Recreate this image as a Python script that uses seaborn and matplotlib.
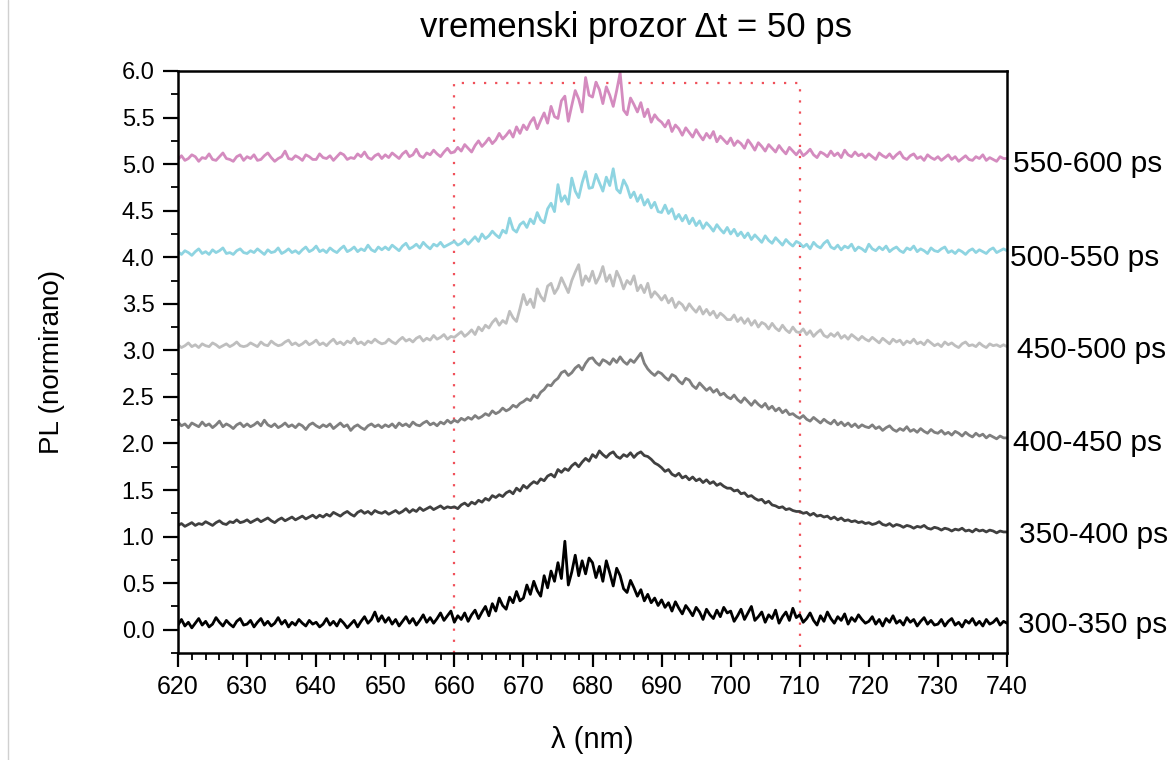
import matplotlib
matplotlib.use("Agg")
import matplotlib.pyplot as plt
import numpy as np
import pandas as pd
import seaborn as sns
from matplotlib.ticker import MultipleLocator, FormatStrFormatter
from matplotlib.lines import Line2D

# ---------------- data (0.5 nm steps) ----------------
wavelength = np.arange(620.0, 740.25, 0.5)

s550_600 = [
    5.05, 5.09, 5.04, 5.06, 5.10, 5.08, 5.03, 5.07, 5.06, 5.11, 5.05, 5.04, 5.08, 5.12, 5.06, 5.05, 5.03, 5.08, 5.10, 5.04,
    5.08, 5.06, 5.10, 5.04, 5.05, 5.09, 5.12, 5.07, 5.03, 5.06, 5.08, 5.14, 5.06, 5.05, 5.09, 5.07, 5.04, 5.10, 5.08, 5.05,
    5.05, 5.11, 5.07, 5.06, 5.09, 5.04, 5.08, 5.12, 5.10, 5.05, 5.07, 5.06, 5.11, 5.08, 5.13, 5.07, 5.05, 5.09, 5.11, 5.06,
    5.10, 5.07, 5.12, 5.09, 5.06, 5.11, 5.14, 5.08, 5.10, 5.16, 5.09, 5.07, 5.12, 5.10, 5.15, 5.11, 5.08, 5.13, 5.17, 5.12,
    5.13, 5.18, 5.14, 5.21, 5.17, 5.13, 5.20, 5.25, 5.19, 5.23, 5.28, 5.22, 5.26, 5.33, 5.27, 5.31, 5.36, 5.29, 5.40, 5.33,
    5.42, 5.37, 5.45, 5.50, 5.38, 5.47, 5.55, 5.44, 5.62, 5.51, 5.49, 5.68, 5.73, 5.46, 5.63, 5.79, 5.70, 5.56, 5.93, 5.74,
    5.72, 5.88, 5.80, 5.65, 5.83, 5.74, 5.62, 5.79, 5.98, 5.58, 5.53, 5.71, 5.64, 5.56, 5.66, 5.51, 5.59, 5.45, 5.53, 5.48,
    5.45, 5.40, 5.47, 5.35, 5.42, 5.38, 5.31, 5.39, 5.34, 5.29, 5.37, 5.31, 5.26, 5.33, 5.28, 5.35, 5.24, 5.30, 5.26, 5.22,
    5.28, 5.20, 5.25, 5.22, 5.17, 5.26, 5.21, 5.15, 5.23, 5.19, 5.14, 5.21, 5.17, 5.13, 5.20, 5.15, 5.11, 5.18, 5.14, 5.10,
    5.15, 5.09, 5.12, 5.16, 5.10, 5.07, 5.13, 5.11, 5.08, 5.14, 5.09, 5.12, 5.07, 5.15, 5.10, 5.08, 5.13, 5.09, 5.11, 5.07,
    5.11, 5.08, 5.05, 5.12, 5.09, 5.07, 5.11, 5.06, 5.10, 5.13, 5.07, 5.05, 5.09, 5.11, 5.06, 5.08, 5.04, 5.10, 5.07, 5.05,
    5.08, 5.04, 5.07, 5.10, 5.05, 5.08, 5.03, 5.06, 5.09, 5.05, 5.04, 5.08, 5.06, 5.10, 5.04, 5.07, 5.05, 5.03, 5.08, 5.06,
    5.06,
]

s500_550 = [
    4.06, 4.03, 4.07, 4.05, 4.02, 4.06, 4.09, 4.04, 4.06, 4.03, 4.08, 4.05, 4.07, 4.10, 4.04, 4.05, 4.03, 4.07, 4.09, 4.05,
    4.04, 4.07, 4.05, 4.09, 4.06, 4.03, 4.08, 4.05, 4.06, 4.10, 4.04, 4.06, 4.09, 4.05, 4.07, 4.04, 4.08, 4.11, 4.06, 4.08,
    4.12, 4.06, 4.08, 4.05, 4.10, 4.07, 4.05, 4.09, 4.12, 4.06, 4.08, 4.11, 4.06, 4.09, 4.07, 4.13, 4.08, 4.06, 4.11, 4.08,
    4.11, 4.08, 4.13, 4.10, 4.07, 4.12, 4.15, 4.09, 4.11, 4.14, 4.10, 4.16, 4.12, 4.09, 4.14, 4.12, 4.16, 4.11, 4.13, 4.15,
    4.17, 4.13, 4.15, 4.19, 4.14, 4.18, 4.22, 4.17, 4.25, 4.20, 4.23, 4.28, 4.24, 4.21, 4.29, 4.26, 4.42, 4.30, 4.27, 4.35,
    4.38, 4.32, 4.41, 4.36, 4.48, 4.40, 4.37, 4.52, 4.58, 4.49, 4.78, 4.60, 4.66, 4.57, 4.85, 4.71, 4.64, 4.80, 4.92, 4.74,
    4.75, 4.89, 4.80, 4.71, 4.86, 4.77, 4.95, 4.73, 4.69, 4.83, 4.76, 4.64, 4.70, 4.60, 4.67, 4.56, 4.62, 4.53, 4.59, 4.49,
    4.48, 4.56, 4.47, 4.52, 4.41, 4.46, 4.39, 4.45, 4.36, 4.42, 4.34, 4.39, 4.31, 4.37, 4.33, 4.28, 4.35, 4.30, 4.26, 4.32,
    4.25, 4.30, 4.23, 4.27, 4.21, 4.26, 4.19, 4.24, 4.20, 4.16, 4.23, 4.18, 4.15, 4.21, 4.17, 4.13, 4.19, 4.15, 4.12, 4.17,
    4.15, 4.11, 4.14, 4.09, 4.16, 4.12, 4.10, 4.15, 4.18, 4.11, 4.09, 4.13, 4.08, 4.12, 4.10, 4.14, 4.07, 4.11, 4.09, 4.06,
    4.14, 4.09, 4.07, 4.11, 4.08, 4.12, 4.06, 4.09, 4.11, 4.07, 4.05, 4.10, 4.08, 4.12, 4.06, 4.09, 4.07, 4.04, 4.10, 4.07,
    4.06, 4.09, 4.11, 4.05, 4.07, 4.04, 4.08, 4.06, 4.03, 4.07, 4.09, 4.05, 4.08, 4.06, 4.04, 4.08, 4.10, 4.05, 4.07, 4.09,
    4.07,
]

s450_500 = [
    3.06, 3.03, 3.05, 3.08, 3.04, 3.06, 3.03, 3.07, 3.05, 3.04, 3.08, 3.06, 3.03, 3.05, 3.07, 3.04, 3.06, 3.09, 3.05, 3.04,
    3.05, 3.08, 3.06, 3.04, 3.09, 3.06, 3.05, 3.10, 3.07, 3.05, 3.06, 3.09, 3.11, 3.06, 3.08, 3.05, 3.07, 3.10, 3.06, 3.08,
    3.11, 3.06, 3.08, 3.05, 3.09, 3.12, 3.07, 3.09, 3.06, 3.10, 3.08, 3.13, 3.07, 3.09, 3.06, 3.10, 3.08, 3.12, 3.09, 3.07,
    3.08, 3.12, 3.09, 3.07, 3.11, 3.14, 3.10, 3.12, 3.09, 3.13, 3.15, 3.10, 3.13, 3.11, 3.16, 3.12, 3.14, 3.17, 3.12, 3.15,
    3.14, 3.17, 3.20, 3.15, 3.18, 3.22, 3.17, 3.25, 3.21, 3.27, 3.24, 3.30, 3.34, 3.27, 3.32, 3.29, 3.42, 3.35, 3.31, 3.45,
    3.60, 3.49, 3.55, 3.46, 3.66, 3.58, 3.53, 3.69, 3.72, 3.61, 3.67, 3.78, 3.70, 3.62, 3.75, 3.84, 3.92, 3.70, 3.80, 3.74,
    3.85, 3.72, 3.79, 3.90, 3.74, 3.81, 3.69, 3.85, 3.77, 3.66, 3.75, 3.71, 3.80, 3.64, 3.70, 3.62, 3.72, 3.57, 3.63, 3.59,
    3.54, 3.59, 3.51, 3.56, 3.46, 3.52, 3.49, 3.43, 3.50, 3.45, 3.41, 3.47, 3.39, 3.44, 3.38, 3.42, 3.35, 3.40, 3.37, 3.33,
    3.33, 3.38, 3.31, 3.35, 3.29, 3.34, 3.27, 3.32, 3.25, 3.30, 3.28, 3.23, 3.29, 3.24, 3.21, 3.27, 3.22, 3.19, 3.25, 3.20,
    3.19, 3.23, 3.17, 3.21, 3.15, 3.19, 3.22, 3.16, 3.14, 3.18, 3.15, 3.19, 3.13, 3.16, 3.12, 3.17, 3.14, 3.11, 3.15, 3.12,
    3.10, 3.14, 3.11, 3.08, 3.13, 3.10, 3.07, 3.12, 3.09, 3.11, 3.06, 3.10, 3.08, 3.12, 3.07, 3.09, 3.06, 3.11, 3.08, 3.05,
    3.07, 3.04, 3.09, 3.06, 3.08, 3.05, 3.03, 3.07, 3.09, 3.05, 3.06, 3.04, 3.08, 3.05, 3.03, 3.07, 3.05, 3.06, 3.04, 3.06,
    3.04,
]

s400_450 = [
    2.23, 2.19, 2.21, 2.17, 2.22, 2.20, 2.18, 2.23, 2.19, 2.21, 2.17, 2.20, 2.24, 2.18, 2.21, 2.19, 2.16, 2.20, 2.22, 2.18,
    2.21, 2.18, 2.20, 2.23, 2.19, 2.25, 2.20, 2.18, 2.21, 2.17, 2.19, 2.22, 2.18, 2.20, 2.17, 2.21, 2.19, 2.15, 2.20, 2.22,
    2.19, 2.17, 2.20, 2.18, 2.21, 2.16, 2.19, 2.22, 2.18, 2.20, 2.14, 2.18, 2.20, 2.17, 2.15, 2.19, 2.21, 2.18, 2.20, 2.17,
    2.20, 2.18, 2.21, 2.17, 2.22, 2.19, 2.21, 2.18, 2.23, 2.20, 2.19, 2.22, 2.24, 2.20, 2.22, 2.19, 2.23, 2.21, 2.25, 2.22,
    2.25, 2.23, 2.27, 2.25, 2.28, 2.26, 2.30, 2.27, 2.29, 2.32, 2.30, 2.35, 2.32, 2.34, 2.38, 2.35, 2.37, 2.41, 2.39, 2.43,
    2.45, 2.48, 2.46, 2.52, 2.49, 2.55, 2.58, 2.63, 2.62, 2.67, 2.70, 2.76, 2.78, 2.73, 2.76, 2.81, 2.84, 2.79, 2.86, 2.91,
    2.92, 2.87, 2.84, 2.90, 2.88, 2.85, 2.91, 2.87, 2.93, 2.88, 2.85, 2.90, 2.87, 2.92, 2.97, 2.86, 2.80, 2.76, 2.73, 2.77,
    2.75, 2.71, 2.68, 2.74, 2.72, 2.67, 2.64, 2.70, 2.68, 2.62, 2.59, 2.65, 2.61, 2.57, 2.60, 2.55, 2.58, 2.52, 2.54, 2.50,
    2.48, 2.52, 2.47, 2.44, 2.49, 2.45, 2.41, 2.46, 2.42, 2.39, 2.43, 2.37, 2.40, 2.35, 2.38, 2.33, 2.36, 2.31, 2.32, 2.29,
    2.27, 2.30, 2.26, 2.24, 2.28, 2.25, 2.22, 2.26, 2.23, 2.21, 2.25, 2.20, 2.23, 2.19, 2.22, 2.18, 2.21, 2.17, 2.20, 2.18,
    2.17, 2.20, 2.16, 2.18, 2.14, 2.17, 2.19, 2.15, 2.13, 2.16, 2.14, 2.18, 2.13, 2.15, 2.12, 2.16, 2.13, 2.11, 2.15, 2.12,
    2.11, 2.14, 2.10, 2.12, 2.09, 2.13, 2.11, 2.08, 2.12, 2.09, 2.07, 2.11, 2.08, 2.10, 2.06, 2.09, 2.07, 2.05, 2.08, 2.06,
    2.06,
]

s350_400 = [
    1.12, 1.14, 1.11, 1.13, 1.15, 1.12, 1.14, 1.13, 1.16, 1.14, 1.12, 1.15, 1.17, 1.14, 1.13, 1.16, 1.15, 1.18, 1.15, 1.16,
    1.18, 1.15, 1.17, 1.19, 1.16, 1.18, 1.20, 1.17, 1.15, 1.18, 1.20, 1.17, 1.19, 1.21, 1.18, 1.20, 1.22, 1.19, 1.21, 1.23,
    1.20, 1.23, 1.21, 1.24, 1.22, 1.26, 1.24, 1.22, 1.25, 1.27, 1.24, 1.22, 1.26, 1.28, 1.25, 1.27, 1.24, 1.28, 1.26, 1.25,
    1.27, 1.24, 1.26, 1.28, 1.25, 1.27, 1.30, 1.26, 1.29, 1.27, 1.31, 1.28, 1.30, 1.32, 1.29, 1.31, 1.33, 1.30, 1.32, 1.31,
    1.32, 1.30, 1.34, 1.36, 1.33, 1.37, 1.35, 1.39, 1.37, 1.41, 1.39, 1.44, 1.42, 1.45, 1.43, 1.47, 1.49, 1.46, 1.52, 1.49,
    1.55, 1.52, 1.56, 1.59, 1.57, 1.62, 1.60, 1.65, 1.67, 1.64, 1.72, 1.69, 1.73, 1.71, 1.76, 1.79, 1.75, 1.80, 1.84, 1.81,
    1.88, 1.85, 1.92, 1.88, 1.85, 1.89, 1.91, 1.86, 1.84, 1.88, 1.86, 1.90, 1.85, 1.89, 1.91, 1.87, 1.86, 1.83, 1.79, 1.77,
    1.74, 1.70, 1.72, 1.67, 1.65, 1.68, 1.63, 1.65, 1.61, 1.64, 1.60, 1.62, 1.58, 1.61, 1.57, 1.59, 1.55, 1.57, 1.54, 1.52,
    1.52, 1.49, 1.50, 1.46, 1.47, 1.43, 1.44, 1.41, 1.39, 1.40, 1.36, 1.38, 1.34, 1.33, 1.31, 1.32, 1.29, 1.30, 1.28, 1.27,
    1.27, 1.25, 1.26, 1.23, 1.25, 1.22, 1.23, 1.21, 1.22, 1.19, 1.21, 1.18, 1.20, 1.17, 1.18, 1.16, 1.17, 1.15, 1.16, 1.14,
    1.15, 1.13, 1.14, 1.16, 1.13, 1.12, 1.14, 1.11, 1.13, 1.12, 1.10, 1.12, 1.11, 1.09, 1.11, 1.10, 1.12, 1.09, 1.08, 1.10,
    1.09, 1.07, 1.09, 1.08, 1.06, 1.08, 1.07, 1.09, 1.06, 1.07, 1.05, 1.08, 1.06, 1.07, 1.05, 1.07, 1.06, 1.04, 1.06, 1.05,
    1.05,
]

s300_350 = [
    0.05, 0.11, 0.04, 0.08, 0.02, 0.07, 0.12, 0.05, 0.09, 0.03, 0.06, 0.13, 0.08, 0.04, 0.10, 0.06, 0.03, 0.09, 0.12, 0.05,
    0.06, 0.10, 0.03, 0.08, 0.12, 0.05, 0.09, 0.04, 0.07, 0.13, 0.06, 0.10, 0.03, 0.08, 0.05, 0.11, 0.07, 0.04, 0.10, 0.06,
    0.08, 0.03, 0.06, 0.12, 0.05, 0.09, 0.04, 0.11, 0.07, 0.02, 0.06, 0.10, 0.03, 0.09, 0.14, 0.07, 0.11, 0.19, 0.09, 0.15,
    0.08, 0.13, 0.06, 0.11, 0.04, 0.09, 0.14, 0.07, 0.12, 0.05, 0.10, 0.16, 0.08, 0.13, 0.07, 0.12, 0.18, 0.10, 0.15, 0.20,
    0.08, 0.15, 0.11, 0.18, 0.09, 0.16, 0.21, 0.12, 0.19, 0.25, 0.15, 0.28, 0.20, 0.34, 0.26, 0.22, 0.35, 0.29, 0.41, 0.31,
    0.34, 0.48, 0.38, 0.52, 0.42, 0.36, 0.58, 0.45, 0.63, 0.52, 0.72, 0.55, 0.95, 0.48, 0.62, 0.80, 0.58, 0.74, 0.60, 0.77,
    0.72, 0.56, 0.68, 0.52, 0.74, 0.61, 0.47, 0.66, 0.58, 0.44, 0.40, 0.53, 0.45, 0.36, 0.43, 0.31, 0.38, 0.29, 0.34, 0.26,
    0.32, 0.24, 0.29, 0.20, 0.30, 0.23, 0.17, 0.26, 0.21, 0.15, 0.24, 0.19, 0.11, 0.22, 0.16, 0.12, 0.21, 0.14, 0.24, 0.18,
    0.20, 0.09, 0.15, 0.22, 0.11, 0.18, 0.25, 0.10, 0.14, 0.19, 0.08, 0.16, 0.12, 0.21, 0.07, 0.14, 0.19, 0.10, 0.23, 0.13,
    0.16, 0.08, 0.12, 0.18, 0.10, 0.05, 0.15, 0.09, 0.19, 0.12, 0.07, 0.14, 0.10, 0.17, 0.06, 0.13, 0.09, 0.16, 0.11, 0.07,
    0.09, 0.14, 0.06, 0.11, 0.04, 0.12, 0.08, 0.15, 0.07, 0.10, 0.05, 0.13, 0.08, 0.11, 0.04, 0.09, 0.13, 0.06, 0.10, 0.05,
    0.06, 0.11, 0.04, 0.09, 0.12, 0.05, 0.08, 0.03, 0.10, 0.07, 0.12, 0.05, 0.09, 0.04, 0.11, 0.06, 0.08, 0.12, 0.05, 0.09,
    0.07,
]

windows = ["300-350 ps", "350-400 ps", "400-450 ps",
           "450-500 ps", "500-550 ps", "550-600 ps"]
series = [s300_350, s350_400, s400_450, s450_500, s500_550, s550_600]
label_y = [0.05, 1.02, 2.01, 3.0, 3.99, 5.0]
window_box_x = [660, 660, 710, 710]
window_box_y = [-0.25, 5.87, 5.87, -0.25]

colors = ["#000000", "#404040", "#7f7f7f", "#bebebe", "#8ed4e1", "#d48bbf"]
label_dx = [1.013, 1.014, 1.007, 1.012, 1.004, 1.007]

# ---------------- figure ----------------
sns.set_theme(style="ticks")
plt.rcParams['font.family'] = ['Liberation Sans', 'DejaVu Sans']
plt.rcParams['text.color'] = 'black'
plt.rcParams['axes.labelcolor'] = 'black'
plt.rcParams['xtick.color'] = 'black'
plt.rcParams['ytick.color'] = 'black'

fig = plt.figure(figsize=(11.76, 7.6), dpi=100)
ax = fig.add_axes([178 / 1176, 1 - 653 / 760, (1007 - 178) / 1176, (653 - 71) / 760])

frames = []
for name, vals in zip(windows, series):
    assert len(vals) == len(wavelength), (name, len(vals))
    frames.append(pd.DataFrame({"wl": wavelength, "pl": vals, "window": name}))
df = pd.concat(frames, ignore_index=True)

sns.lineplot(data=df, x="wl", y="pl", hue="window", hue_order=windows,
             palette=dict(zip(windows, colors)), linewidth=2.0,
             estimator=None, legend=False, ax=ax)

ax.plot(window_box_x, window_box_y, color="#f0505a", lw=1.6,
        linestyle=(0, (1, 4)), zorder=1)

ax.set_xlim(620, 740)
ax.set_ylim(-0.25, 6.0)
ax.xaxis.set_major_locator(MultipleLocator(10))
ax.xaxis.set_minor_locator(MultipleLocator(2))
ax.yaxis.set_major_locator(MultipleLocator(0.5))
ax.yaxis.set_minor_locator(MultipleLocator(0.25))
ax.yaxis.set_major_formatter(FormatStrFormatter("%.1f"))

ax.tick_params(axis="x", which="major", direction="out", length=10, width=1.6,
               labelsize=18, pad=6, colors="black")
ax.tick_params(axis="x", which="minor", direction="out", length=5, width=1.3,
               colors="black")
ax.tick_params(axis="y", which="major", direction="out", length=11, width=1.6,
               labelsize=17, pad=6, colors="black")
ax.tick_params(axis="y", which="minor", direction="out", length=5, width=1.3,
               colors="black")

for sp in ax.spines.values():
    sp.set_visible(True)
    sp.set_color("black")
    sp.set_linewidth(1.8)

ax.set_xlabel("")
ax.set_ylabel("")

for name, y, dx in zip(windows, label_y, label_dx):
    ax.text(dx, y, name, transform=ax.get_yaxis_transform(), fontsize=21.5,
            ha="left", va="center", color="black", clip_on=False)

fig.text(636 / 1176, 1 - 28 / 760, "vremenski prozor \u0394t = 50 ps",
         fontsize=25, ha="center", va="center", color="black")
fig.text(592 / 1176, 1 - 740 / 760, "\u03bb (nm)", fontsize=21,
         ha="center", va="center", color="black")
fig.text(52 / 1176, 1 - 362 / 760, "PL (normirano)", fontsize=20,
         rotation=90, ha="center", va="center", color="black")

fig.add_artist(Line2D([8 / 1176, 8 / 1176], [0, 1], color="#d0d0d0", lw=1,
                      transform=fig.transFigure))

fig.savefig("out.png", dpi=100, facecolor="white")
